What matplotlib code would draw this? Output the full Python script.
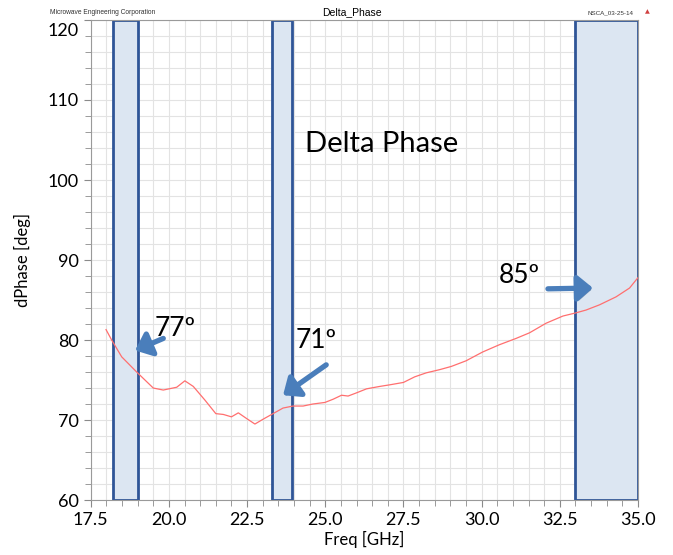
import matplotlib.pyplot as plt
import matplotlib.patheffects as pe
from matplotlib.ticker import MultipleLocator

# curve
freq = [17.99, 18.17, 18.49, 18.97, 19.5, 19.82, 20.25, 20.51, 20.78, 21.15, 21.5,
        21.74, 22.0, 22.22, 22.48, 22.75, 23.01, 23.33, 23.65, 23.97, 24.29, 24.6,
        24.99, 25.25, 25.52, 25.73, 26.0, 26.32, 26.74, 27.06, 27.5, 27.86, 28.23,
        28.66, 29.03, 29.5, 30.03, 30.56, 31.1, 31.53, 32.06, 32.6, 33.02, 33.34,
        33.77, 34.3, 34.73, 35.0]
dphase = [81.3, 80.0, 77.9, 76.0, 74.0, 73.75, 74.1, 74.9, 74.2, 72.5, 70.8,
          70.7, 70.4, 70.9, 70.2, 69.5, 70.1, 70.8, 71.5, 71.75, 71.75, 72.0,
          72.2, 72.6, 73.1, 73.0, 73.4, 73.9, 74.2, 74.4, 74.7, 75.4, 75.9,
          76.3, 76.7, 77.4, 78.5, 79.4, 80.2, 80.9, 82.1, 83.0, 83.4, 83.75,
          84.4, 85.4, 86.5, 87.8]

# highlighted bands
band_start = [18.2, 23.3, 33.0]
band_end = [19.0, 23.95, 35.0]

# callouts: label, text pos, arrow tail, arrow head
labels = ['77º', '71º', '85º']
label_x = [20.2, 24.7, 31.2]
label_y = [81.5, 80.0, 88.1]
tail_x = [19.82, 25.03, 32.12]
tail_y = [80.2, 76.9, 86.4]
head_x = [18.92, 23.65, 33.56]
head_y = [78.7, 73.1, 86.5]

plt.rcParams['font.family'] = ['Lato', 'DejaVu Sans']

fig = plt.figure(figsize=(6.73, 5.55), dpi=100)
ax = fig.add_axes([0.1348, 0.099, 0.948 - 0.1348, 0.964 - 0.099])

ax.set_xlim(17.5, 35.0)
ax.set_ylim(60, 120)
ax.xaxis.set_major_locator(MultipleLocator(2.5))
ax.xaxis.set_minor_locator(MultipleLocator(0.5))
ax.yaxis.set_major_locator(MultipleLocator(10))
ax.yaxis.set_minor_locator(MultipleLocator(2))
ax.xaxis.set_major_formatter(lambda v, p: f'{v:.1f}')
# top label is drawn separately, a bit lower, like in the reference
ax.yaxis.set_major_formatter(lambda v, p: '' if v >= 120 else f'{v:.0f}')
ax.grid(True, which='both', color='#e3e3e3', linewidth=0.8)
ax.set_axisbelow(True)
for s in ax.spines.values():
    s.set_color('#9a9a9a')
ax.tick_params(which='both', colors='#8a8a8a', labelcolor='black', labelsize=13)
ax.tick_params(which='major', length=5)
ax.tick_params(which='minor', length=4)
ax.annotate('120', xy=(0, 120), xycoords=('axes fraction', 'data'),
            xytext=(-8.5, -8), textcoords='offset points',
            ha='right', va='center', fontsize=13)

for x0, x1 in zip(band_start, band_end):
    ax.axvspan(x0, x1, facecolor='#dce6f2', edgecolor='#2f5597', linewidth=2, zorder=2)

ax.plot(freq, dphase, color='#ff6f6f', linewidth=0.9, zorder=3)

ax.set_xlabel('Freq [GHz]', fontsize=12, labelpad=2)
ax.set_ylabel('dPhase [deg]', fontsize=12, labelpad=12)

ax.text(26.8, 104.5, 'Delta Phase', fontsize=21, ha='center', va='center', zorder=5)

shadow = [pe.SimplePatchShadow(offset=(1.5, -1.5), alpha=0.3), pe.Normal()]
for lab, lx, ly, tx, ty, hx, hy in zip(labels, label_x, label_y, tail_x, tail_y, head_x, head_y):
    ax.text(lx, ly, lab, fontsize=19, ha='center', va='center', zorder=5)
    ax.annotate('', xy=(hx, hy), xytext=(tx, ty), zorder=6,
                arrowprops=dict(arrowstyle='-|>,head_width=0.55,head_length=0.65',
                                color='#4a7ebb', lw=3.8, shrinkA=0, shrinkB=0,
                                mutation_scale=14, path_effects=shadow))

# header line
fig.text(0.075, 0.977, 'Microwave Engineering Corporation', fontsize=4.8,
         family='Liberation Sans', color='#333333', va='center')
fig.text(0.523, 0.978, 'Delta_Phase', fontsize=7.5, family='Liberation Sans',
         ha='center', va='center')
fig.text(0.873, 0.977, 'NSCA_03-25-14', fontsize=4.5, family='Liberation Sans',
         color='#333333', va='center')
fig.text(0.962, 0.979, '▲', fontsize=4.5, color='#d04040', ha='center', va='center',
         family='DejaVu Sans')

fig.savefig('out.png', dpi=100)
